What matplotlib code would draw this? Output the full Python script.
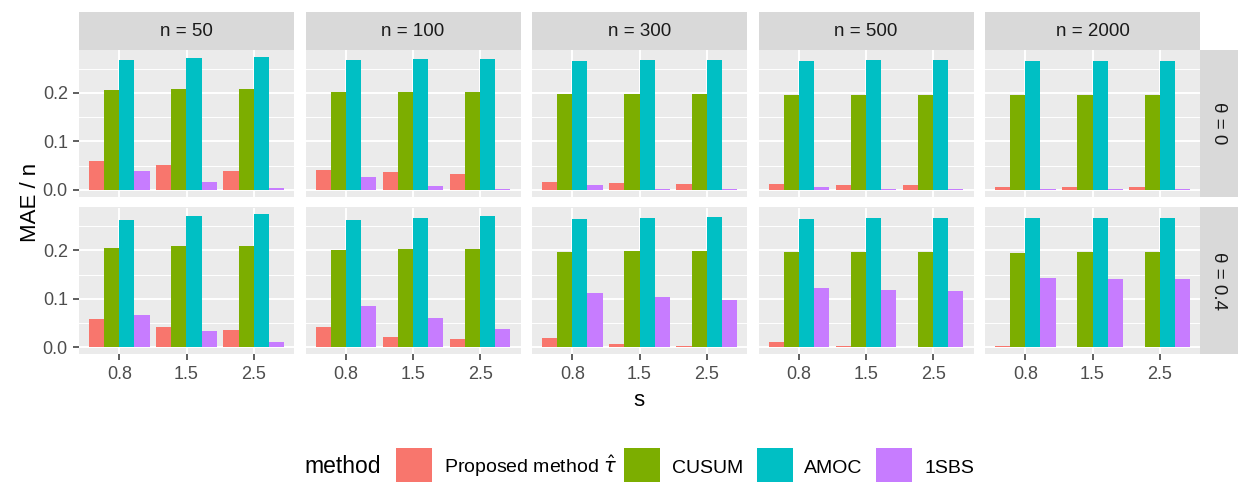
import matplotlib.pyplot as plt
from matplotlib.patches import Rectangle
import numpy as np

W, H = 1238, 482

sample_sizes = [50, 100, 300, 500, 2000]
theta_levels = ["0", "0.4"]
s_levels = ["0.8", "1.5", "2.5"]
methods = ["Proposed method $\\hat{\\tau}$", "CUSUM", "AMOC", "1SBS"]
method_colors = ["#F8766D", "#7CAE00", "#00BFC4", "#C77CFF"]

# MAE / n, rows = sample size, columns = s
proposed_t0 = [[0.060, 0.052, 0.039], [0.040, 0.036, 0.032], [0.017, 0.015, 0.013],
               [0.013, 0.011, 0.011], [0.005, 0.005, 0.005]]
cusum_t0 = [[0.207, 0.209, 0.209], [0.201, 0.201, 0.201], [0.197, 0.197, 0.197],
            [0.195, 0.195, 0.195], [0.195, 0.195, 0.195]]
amoc_t0 = [[0.269, 0.273, 0.275], [0.268, 0.270, 0.270], [0.266, 0.268, 0.268],
           [0.266, 0.268, 0.268], [0.266, 0.266, 0.266]]
sbs_t0 = [[0.039, 0.017, 0.004], [0.026, 0.007, 0.001], [0.009, 0.001, 0.001],
          [0.005, 0.001, 0.001], [0.001, 0.001, 0.001]]

proposed_t4 = [[0.058, 0.042, 0.035], [0.041, 0.022, 0.018], [0.020, 0.006, 0.0035],
               [0.012, 0.0035, 0.0014], [0.0035, 0.0014, 0.0014]]
cusum_t4 = [[0.206, 0.210, 0.210], [0.201, 0.203, 0.203], [0.197, 0.199, 0.199],
            [0.197, 0.197, 0.197], [0.195, 0.197, 0.197]]
amoc_t4 = [[0.2625, 0.271, 0.275], [0.262, 0.268, 0.272], [0.264, 0.268, 0.270],
           [0.266, 0.268, 0.268], [0.268, 0.268, 0.268]]
sbs_t4 = [[0.067, 0.033, 0.0104], [0.085, 0.060, 0.037], [0.112, 0.1035, 0.097],
          [0.122, 0.118, 0.116], [0.143, 0.141, 0.141]]

results = {
    "0": [proposed_t0, cusum_t0, amoc_t0, sbs_t0],
    "0.4": [proposed_t4, cusum_t4, amoc_t4, sbs_t4],
}

plt.rcParams["font.family"] = ["Liberation Sans", "DejaVu Sans"]

fig = plt.figure(figsize=(W / 100, H / 100), dpi=100)


def fx(px):
    return px / W


def fy(py):
    return 1 - py / H


def box(left, top, width, height):
    return [fx(left), fy(top + height), width / W, height / H]


panel_left0, panel_w, panel_step = 79, 215, 226.5
row_tops, row_h = [50, 207.5], 146.5

ymax = max(np.max(v) for vals in results.values() for v in vals)
ylim = (-0.05 * ymax, 1.05 * ymax)
dodge = 0.9
bar_w = dodge / len(methods)
x = np.arange(1, len(s_levels) + 1)

for r, theta in enumerate(theta_levels):
    for c, n in enumerate(sample_sizes):
        left = panel_left0 + c * panel_step
        ax = fig.add_axes(box(left, row_tops[r], panel_w, row_h))
        ax.set_facecolor("#EBEBEB")
        for sp in ax.spines.values():
            sp.set_visible(False)
        for m, vals in enumerate(results[theta]):
            offs = (m - (len(methods) - 1) / 2) * bar_w
            ax.bar(x + offs, vals[c], width=bar_w, color=method_colors[m], zorder=3)
        ax.set_xlim(0.4, 3.6)
        ax.set_ylim(*ylim)
        ax.set_xticks(x)
        ax.set_yticks([0, 0.1, 0.2])
        ax.set_yticks([0.05, 0.15, 0.25], minor=True)
        ax.grid(True, which="major", color="white", linewidth=1.4, zorder=0)
        ax.grid(True, which="minor", axis="y", color="white", linewidth=0.7, zorder=0)
        ax.set_axisbelow(True)
        ax.tick_params(which="major", length=4.3, width=1.1, color="#333333",
                       labelcolor="#4D4D4D", labelsize=13)
        ax.tick_params(axis="x", pad=4.5)
        ax.tick_params(axis="y", pad=3.8)
        ax.tick_params(which="minor", length=0)
        if r == len(theta_levels) - 1:
            ax.set_xticklabels(s_levels)
        else:
            ax.tick_params(axis="x", length=0, labelbottom=False)
        if c == 0:
            ax.set_yticklabels(["0.0", "0.1", "0.2"])
        else:
            ax.tick_params(axis="y", length=0, labelleft=False)

        # column strip
        if r == 0:
            sax = fig.add_axes(box(left, 12, panel_w, 38))
            sax.set_facecolor("#D9D9D9")
            sax.set_xticks([]); sax.set_yticks([])
            for sp in sax.spines.values():
                sp.set_visible(False)
            sax.text(0.5, 0.5, f"n = {n}", ha="center", va="center",
                     fontsize=13.5, color="#1A1A1A", transform=sax.transAxes)

    # row strip
    rax = fig.add_axes(box(1199.5, row_tops[r], 38.5, row_h))
    rax.set_facecolor("#D9D9D9")
    rax.set_xticks([]); rax.set_yticks([])
    for sp in rax.spines.values():
        sp.set_visible(False)
    rax.text(0.5, 0.5, f"\u03b8 = {theta}", ha="center", va="center", rotation=-90,
             fontsize=13.5, color="#1A1A1A", transform=rax.transAxes)

# axis titles
fig.text(fx(30), fy(202), "MAE / n", rotation=90, ha="center", va="center", fontsize=16)
fig.text(fx(639), fy(406), "s", ha="center", va="baseline", fontsize=16)

# legend
fig.text(fx(304), fy(473), "method", ha="left", va="baseline", fontsize=16.5)
key_x = [395.5, 624, 757, 876]
label_x = [444, 672, 804, 924.5]
for kx, lx, name, col in zip(key_x, label_x, methods, method_colors):
    fig.patches.append(Rectangle((fx(kx), fy(484)), 36 / W, 36 / H, facecolor=col,
                                 edgecolor="none", transform=fig.transFigure))
    fig.text(fx(lx), fy(473), name, ha="left", va="baseline", fontsize=14)

fig.savefig("out.png", dpi=100)
